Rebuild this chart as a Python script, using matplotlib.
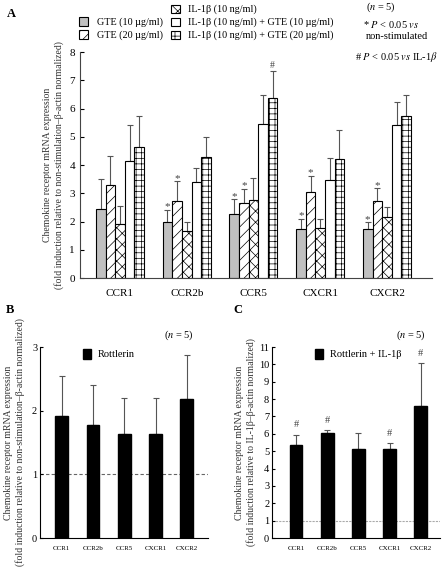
import matplotlib.pyplot as plt
from matplotlib.patches import Patch
import numpy as np

plt.rcParams['font.family'] = ['Liberation Serif', 'DejaVu Serif']
plt.rcParams['mathtext.fontset'] = 'stix'
plt.rcParams['hatch.linewidth'] = 0.5

# panel A data
genes = ['CCR1', 'CCR2b', 'CCR5', 'CXCR1', 'CXCR2']
series = ['GTE (10 \u00b5g/ml)', 'GTE (20 \u00b5g/ml)', 'IL-1\u03b2 (10 ng/ml)',
          'IL-1\u03b2 (10 ng/ml) + GTE (10 \u00b5g/ml)',
          'IL-1\u03b2 (10 ng/ml) + GTE (20 \u00b5g/ml)']
gte10 = [2.45, 2.00, 2.28, 1.75, 1.72]
gte20 = [3.28, 2.72, 2.67, 3.03, 2.72]
il1b = [1.92, 1.68, 2.75, 1.77, 2.15]
combo10 = [4.13, 3.40, 5.45, 3.47, 5.42]
combo20 = [4.65, 4.28, 6.37, 4.22, 5.72]
gte10_sd = [1.07, 0.42, 0.50, 0.35, 0.25]
gte20_sd = [1.05, 0.70, 0.48, 0.59, 0.45]
il1b_sd = [0.63, 0.32, 0.80, 0.33, 0.37]
combo10_sd = [1.27, 0.48, 1.02, 0.78, 0.80]
combo20_sd = [1.10, 0.70, 0.96, 1.01, 0.75]
# significance marks per series (index of gene)
star_gte10 = [1, 2, 3, 4]
star_gte20 = [1, 2, 3, 4]
hash_combo20 = [2]

# panel B / C data
rott = [1.92, 1.78, 1.63, 1.64, 2.18]
rott_sd = [0.63, 0.62, 0.57, 0.56, 0.70]
rott_il = [5.33, 6.02, 5.13, 5.10, 7.62]
rott_il_sd = [0.62, 0.20, 0.92, 0.35, 2.45]
hash_rott_il = [0, 1, 3, 4]

fig = plt.figure(figsize=(4.44, 5.75), dpi=100)

# ---------- A ----------
ax = fig.add_axes([0.180, 0.5165, 0.793, 0.393])
x = np.arange(len(genes))
w = 0.144
vals = [gte10, gte20, il1b, combo10, combo20]
sds = [gte10_sd, gte20_sd, il1b_sd, combo10_sd, combo20_sd]
faces = ['#c0c0c0', 'white', 'white', 'white', 'white']
hatches = [None, '///', 'xxx', None, '+++']
handles = []
for i in range(5):
    xi = x + (i - 2) * w
    b = ax.bar(xi, vals[i], w, color=faces[i], edgecolor='black', linewidth=0.8,
               hatch=hatches[i], zorder=2, label=series[i])
    ax.errorbar(xi, vals[i], yerr=[np.zeros(5), sds[i]], fmt='none', ecolor='#555555',
                elinewidth=0.8, capsize=2, capthick=0.8, zorder=1)
    handles.append(b)

def mark(ax, xs, tops, idx, sym, size, dy):
    for j in idx:
        ax.text(xs[j], tops[j] + dy, sym, ha='center', va='bottom', fontsize=size, color='#444444')

mark(ax, x - 2 * w, np.add(gte10, gte10_sd), star_gte10, '*', 8, -0.05)
mark(ax, x - 1 * w, np.add(gte20, gte20_sd), star_gte20, '*', 8, -0.05)
mark(ax, x + 2 * w, np.add(combo20, combo20_sd), hash_combo20, '#', 7, 0.05)

ax.set_xlim(-0.6, 4.675)
ax.set_ylim(0, 8)
ax.set_yticks(range(9))
ax.set_xticks(x)
ax.set_xticklabels(genes, fontsize=8)
ax.tick_params(axis='y', direction='in', labelsize=8, length=3, width=0.8)
ax.tick_params(axis='x', length=0, pad=8)
ax.spines['top'].set_visible(False)
ax.spines['right'].set_visible(False)
ax.spines['left'].set_color('#444444')
ax.spines['bottom'].set_color('#444444')
ax.set_ylabel('Chemokine receptor mRNA expression\n(fold induction relative to non-stimulation\u2013\u03b2-actin normalized)',
              fontsize=7, linespacing=1.3, color='#333333', labelpad=4)

blank = Patch(visible=False)
leg_handles = [blank, handles[0], handles[1], handles[2], handles[3], handles[4]]
leg_labels = ['', series[0], series[1], series[2], series[3], series[4]]
fig.legend(leg_handles, leg_labels, ncol=2, loc='upper left', bbox_to_anchor=(0.158, 1.008),
           frameon=False, fontsize=7.3, handlelength=0.9, handleheight=0.9,
           handletextpad=0.8, columnspacing=0.8, labelspacing=0.3)

fig.text(0.015, 0.975, 'A', fontsize=9, fontweight='bold', va='center')
fig.text(0.825, 0.988, r'($n$ = 5)', fontsize=7.5, va='center')
fig.text(0.818, 0.957, r'* $P$ < 0.05 $vs$', fontsize=7.5, va='center')
fig.text(0.823, 0.936, 'non-stimulated', fontsize=7.5, va='center')
fig.text(0.800, 0.901, r'# $P$ < 0.05 $vs$ IL-1$\beta$', fontsize=7.5, va='center')

# ---------- B / C ----------
def small_panel(rect, vals, sd, xlim, ylim, label, leglabel, linecolor, linestyle, pad):
    ax = fig.add_axes(rect)
    xs = np.arange(len(genes))
    ax.bar(xs, vals, 0.41, color='black', edgecolor='black', zorder=2, label=leglabel)
    ax.errorbar(xs, vals, yerr=[np.zeros(5), sd], fmt='none', ecolor='#555555',
                elinewidth=0.8, capsize=2, capthick=0.8, zorder=1)
    ax.axhline(1, color=linecolor, lw=0.8, ls=linestyle, zorder=0)
    ax.set_xlim(*xlim)
    ax.set_ylim(0, ylim)
    ax.set_yticks(range(ylim + 1))
    ax.set_xticks(xs)
    ax.set_xticklabels(genes, fontsize=5)
    ax.tick_params(axis='y', direction='in', labelsize=7.5, length=2.5, width=0.8, pad=2)
    ax.tick_params(axis='x', length=0, pad=6)
    ax.spines['top'].set_visible(False)
    ax.spines['right'].set_visible(False)
    ax.set_ylabel(label, fontsize=7, linespacing=1.3, color='#333333', labelpad=pad)
    ax.legend(loc='upper left', bbox_to_anchor=(0.2, 1.04), frameon=False, fontsize=7.5,
              handlelength=0.8, handleheight=1.1, handletextpad=0.6)
    return ax

axb = small_panel([0.090, 0.0643, 0.378, 0.3322], rott, rott_sd, (-0.70, 4.67), 3,
                  'Chemokine receptor mRNA expression\n(fold induction relative to non-stimulation\u2013\u03b2-actin normalized)',
                  'Rottlerin', '#666666', (0, (3, 2)), 5)
axc = small_panel([0.6126, 0.0643, 0.378, 0.3322], rott_il, rott_il_sd, (-0.77, 4.61), 11,
                  'Chemokine receptor mRNA expression\n(fold induction relative to IL-1\u03b2\u2013\u03b2-actin normalized)',
                  'Rottlerin + IL-1\u03b2', '#aaaaaa', (0, (2, 1)), 2)
mark(axc, np.arange(5), np.add(rott_il, rott_il_sd), hash_rott_il, '#', 7.5, 0.3)

fig.text(0.012, 0.461, 'B', fontsize=9, fontweight='bold', va='center')
fig.text(0.525, 0.461, 'C', fontsize=9, fontweight='bold', va='center')
fig.text(0.370, 0.417, r'($n$ = 5)', fontsize=7.5, va='center')
fig.text(0.893, 0.417, r'($n$ = 5)', fontsize=7.5, va='center')

fig.savefig('out.png', dpi=100)
